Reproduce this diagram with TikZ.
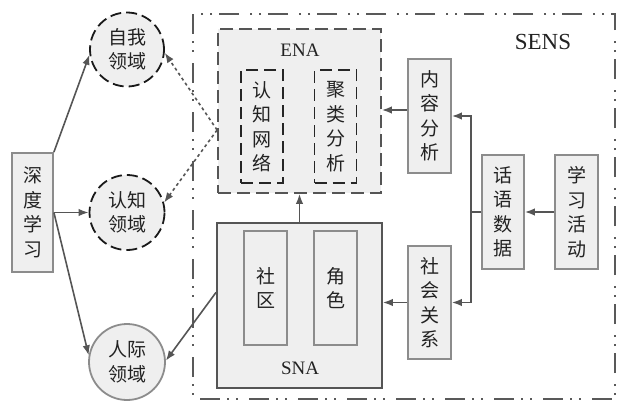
\documentclass[tikz,border=0pt]{standalone}
\usepackage{fontspec}
\setmainfont{Liberation Serif}
\newfontfamily\cjk{Noto Sans CJK SC}
\usetikzlibrary{arrows.meta,calc}
\definecolor{boxfill}{HTML}{EFEFEF}
\definecolor{boxline}{HTML}{8C8C8C}
\definecolor{darkline}{HTML}{555555}
\definecolor{arrowc}{HTML}{555555}
\definecolor{txt}{HTML}{222222}
\begin{document}
\begin{tikzpicture}[x=1pt,y=-1pt,
  cjktext/.style={font=\cjk\fontsize{19}{24.5}\selectfont, text=txt, align=center, inner sep=0pt},
  vbox/.style={cjktext, draw=boxline, fill=boxfill, line width=1.8pt, minimum width=43pt, minimum height=114pt},
  dbox/.style={cjktext, draw=black!85, line width=1.8pt, dash pattern=on 12pt off 6pt, minimum width=42pt, minimum height=113pt},
  sbox/.style={cjktext, draw=boxline, line width=1.8pt, minimum width=43pt, minimum height=114pt},
  dcirc/.style={cjktext, circle, draw=black!90, fill=boxfill, line width=1.8pt, dash pattern=on 11pt off 5pt, minimum size=74pt},
  scirc/.style={cjktext, circle, draw=boxline, fill=boxfill, line width=1.8pt, minimum size=76pt},
  latin/.style={font=\fontsize{19}{22}\selectfont, text=txt, inner sep=0pt},
  arr/.style={draw=arrowc, line width=1.6pt, -{Latex[length=10pt,width=7.5pt]}},
  dotarr/.style={draw=arrowc, line width=1.6pt, dash pattern=on 3pt off 3pt, -{Latex[length=10pt,width=7.5pt]}},
  plain/.style={draw=arrowc, line width=1.6pt}
]
\useasboundingbox (0,0) rectangle (617,402);
% SENS outer frame
\draw[draw=black!65, line width=1.8pt, dash pattern=on 20pt off 7pt on 2pt off 7pt on 2pt off 11pt] (193,14) rectangle (615,399);
\node[latin, font=\fontsize{23}{26}\selectfont] (sens) at (543,42) {SENS};

% ENA and SNA
\node[draw=darkline, fill=boxfill, line width=1.8pt, dash pattern=on 13pt off 6pt, minimum width=163pt, minimum height=164pt, inner sep=0pt] (ENA) at (299.5,111) {};
\node[latin] (enal) at (300,50) {ENA};
\node[dbox] (cn) at (262,126.5) {认\\知\\网\\络};
\node[dbox] (cl) at (335.5,126.5) {聚\\类\\分\\析};

\node[draw=darkline, fill=boxfill, line width=1.8pt, minimum width=165pt, minimum height=165pt, inner sep=0pt] (SNA) at (299.5,305.5) {};
\node[latin] (snal) at (300,368) {SNA};
\node[sbox] (comm) at (265.5,288) {社\\区};
\node[sbox] (role) at (335.5,288) {角\\色};

% right column
\node[vbox] (content) at (429.5,116) {内\\容\\分\\析};
\node[vbox, minimum height=113pt] (social) at (429.5,302.5) {社\\会\\关\\系};
\node[vbox, minimum width=42pt] (disc) at (503,212) {话\\语\\数\\据};
\node[vbox] (learn) at (576.5,212) {学\\习\\活\\动};

% left
\node[vbox, minimum width=41pt, minimum height=119pt] (deep) at (32.5,212.5) {深\\度\\学\\习};
\node[dcirc] (self) at (127,49.5) {自我\\领域};
\node[dcirc, minimum size=75pt] (cog) at (127,212.5) {认知\\领域};
\node[scirc] (inter) at (127,362) {人际\\领域};

% connectors
\draw[arr] (deep.north east) -- (self.188);
\draw[arr] (deep.east) -- (cog.west);
\draw[arr] (deep.east) -- (inter.170);
\draw[dotarr] (ENA.193) -- (self.-5);
\draw[dotarr] (ENA.193) -- (cog.15);
\draw[arr] (SNA.171) -- (inter.2);
\draw[arr] (SNA.north) -- (ENA.south);
\draw[arr] ([yshift=6pt]content.west) -- ([yshift=6pt]content.west -| ENA.east);
\draw[arr] (social.west) -- (social.west -| SNA.east);
\draw[arr] (learn.west) -- (disc.east);
\coordinate (jn) at (471,212);
\draw[plain] (disc.west) -- (jn);
\draw[arr] (jn) |- (content.east);
\draw[arr] (jn) |- (social.east);
\end{tikzpicture}
\end{document}
